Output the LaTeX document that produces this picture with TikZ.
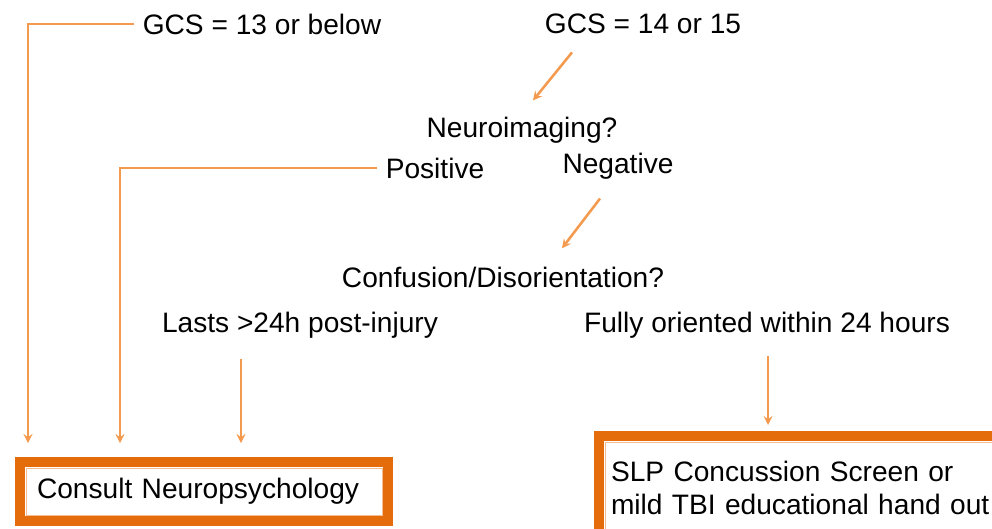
\documentclass[tikz,border=0pt]{standalone}
\usepackage{fontspec}
\setmainfont{Liberation Sans}
\definecolor{lineorange}{HTML}{F39A4E}
\definecolor{boxorange}{HTML}{E46C0A}
\begin{document}
\begin{tikzpicture}[>=stealth, x=0.025cm, y=-0.025cm,
    lbl/.style={font=\fontsize{20}{24}\selectfont, inner sep=2pt, outer sep=4pt},
    arr/.style={->, lineorange, line width=1.8pt},
    box/.style={draw=boxorange, line width=7.5pt, fill=white, outer sep=0pt,
        font=\fontsize{20}{23.5}\selectfont, align=left, anchor=north west}]
        \useasboundingbox (0,0) rectangle (992,528);
        \clip (0,0) rectangle (992,528);

        % Top level
        \node[lbl] (gcsLow) at (262,24) {GCS = 13 or below};
        \node[lbl] (gcsHigh) at (643,24) {GCS = 14 or 15};

        % Imaging
        \node[lbl] (neuro) at (522,130) {Neuroimaging?};
        \node[lbl] (pos) at (435,168) {Positive};
        \node[lbl] (neg) at (618,166) {Negative};

        % Orientation
        \node[lbl] (conf) at (503,277) {Confusion/Disorientation?};
        \node[lbl] (lasts) at (300,325) {Lasts >24h post-injury};
        \node[lbl] (oriented) at (767,325) {Fully oriented within 24 hours};

        % Outcome boxes
        \node[box, minimum width=9.2cm, minimum height=1.475cm, inner xsep=0.425cm,
            text width=8.35cm] (consult) at (20,462) {Consult Neuropsychology};
        \node[box, minimum width=10.275cm, minimum height=2.6cm, inner xsep=0.3cm,
            text width=9.675cm] (slp) at (599,436)
            {SLP Concussion Screen or\\mild TBI educational hand out};
        \draw[boxorange!45, line width=0.6pt]
            ([shift={(6,6)}]consult.north west) rectangle ([shift={(-6,-6)}]consult.south east);
        \draw[boxorange!45, line width=0.6pt]
            ([shift={(6,6)}]slp.north west) rectangle ([shift={(-6,-6)}]slp.south east);

        % Connectors
        \draw[arr] (gcsLow.west) -| ([shift={(8,-19)}]consult.north west);
        \draw[arr] (pos.west) -| ([shift={(100,-19)}]consult.north west);
        \draw[arr] ([shift={(-71,10)}]gcsHigh.south) -- ([shift={(11,-8)}]neuro.north);
        \draw[arr] ([shift={(-18,11)}]neg.south) -- ([shift={(59,-10)}]conf.north);
        \draw[arr] ([shift={(-59,12)}]lasts.south) -- ([shift={(221,-19)}]consult.north west);
        \draw[arr] ([shift={(1,9)}]oriented.south) -- ([shift={(169,-11)}]slp.north west);
\end{tikzpicture}
\end{document}
